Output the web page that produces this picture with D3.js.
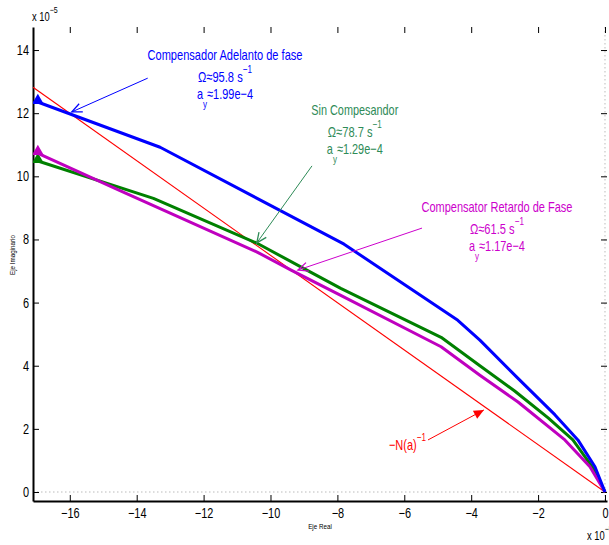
<html>
<head>
<meta charset="utf-8">
<script src="https://d3js.org/d3.v7.min.js"></script>
<style>
  body { margin: 0; background: #fff; }
  text { font-family: "Liberation Sans Narrow", "Liberation Sans", Arial, sans-serif; }
</style>
</head>
<body>
<script>
// datos (x en unidades de 10^-?, y en unidades de 10^-5)
var xTicks = [-16, -14, -12, -10, -8, -6, -4, -2, 0];
var yTicks = [0, 2, 4, 6, 8, 10, 12, 14];

var blueX = [-17, -13.3, -7.8, -4.4, -3.74, -2.6, -1.5, -0.81, -0.3, 0];
var blueY = [12.37, 10.92, 7.85, 5.44, 4.81, 3.6, 2.45, 1.65, 0.8, 0];

var greenX = [-17, -13.5, -10.4, -8.9, -7.9, -4.9, -3.74, -2.7, -1.7, -0.96, -0.35, 0];
var greenY = [10.5, 9.3, 7.88, 7.02, 6.45, 4.9, 4.0, 3.2, 2.35, 1.65, 0.75, 0];

var magentaX = [-17, -14.5, -10.4, -9.37, -7.9, -4.9, -3.74, -2.6, -1.2, -0.45, 0];
var magentaY = [10.75, 9.55, 7.6, 7.02, 6.23, 4.6, 3.7, 2.85, 1.65, 0.8, 0];

var redX = [-17.1, 0];
var redY = [12.82, 0];

var width = 609, height = 545;
var mLeft = 33, mRight = 607, mTop = 27, mBottom = 501;

var svg = d3.select("body").append("svg").attr("width", width).attr("height", height);

var x = d3.scaleLinear().domain([-17.1, 0.06]).range([mLeft, mRight]);
var y = d3.scaleLinear().domain([-0.285, 14.73]).range([mBottom, mTop]);

svg.append("clipPath").attr("id", "clip")
  .append("rect").attr("x", mLeft).attr("y", mTop).attr("width", mRight - mLeft).attr("height", mBottom - mTop);

// lineas punteadas en cero
svg.append("line").attr("x1", mLeft).attr("x2", mRight).attr("y1", y(0)).attr("y2", y(0))
  .attr("stroke", "#bbb").attr("stroke-dasharray", "1.5,2.5");
svg.append("line").attr("x1", x(0)).attr("x2", x(0)).attr("y1", mTop).attr("y2", mBottom)
  .attr("stroke", "#bbb").attr("stroke-dasharray", "1.5,2.5");

// ejes
var fmt = function(d) { return d < 0 ? "\u2212" + Math.abs(d) : d; };

var gx = svg.append("g").attr("transform", "translate(0," + mBottom + ")")
  .call(d3.axisBottom(x).tickValues(xTicks).tickFormat(fmt).tickSizeInner(-6).tickSizeOuter(0).tickPadding(7));
var gxTop = svg.append("g").attr("transform", "translate(0," + mTop + ")")
  .call(d3.axisTop(x).tickValues(xTicks).tickFormat("").tickSizeInner(-6).tickSizeOuter(0));
var gy = svg.append("g").attr("transform", "translate(" + mLeft + ",0)")
  .call(d3.axisLeft(y).tickValues(yTicks).tickFormat(fmt).tickSizeInner(-6).tickSizeOuter(0).tickPadding(4));
var gyRight = svg.append("g").attr("transform", "translate(" + mRight + ",0)")
  .call(d3.axisRight(y).tickValues(yTicks).tickFormat("").tickSizeInner(-6).tickSizeOuter(0));

gxTop.select(".domain").remove();
gyRight.select(".domain").remove();
[gx, gy].forEach(function(g) {
  g.select(".domain").attr("stroke", "#000").attr("stroke-width", 2);
  g.selectAll("text").attr("font-size", 14).attr("fill", "#000").classed("narrow", true);
});
gx.selectAll(".tick line").attr("stroke", "#000");
gy.selectAll(".tick line").attr("stroke", "#000");
gxTop.selectAll(".tick line").attr("stroke", "#000");
gyRight.selectAll(".tick line").attr("stroke", "#000");

// etiquetas de ejes
svg.append("text").attr("class", "narrow").attr("x", (mLeft + mRight) / 2).attr("y", 529).attr("text-anchor", "middle")
  .attr("font-size", 8).text("Eje Real");
svg.append("text").attr("class", "narrow").attr("transform", "translate(15,255) rotate(-90)").attr("text-anchor", "middle")
  .attr("font-size", 8).text("Eje Imaginario");

var ex1 = svg.append("text").attr("class", "narrow").attr("x", 32).attr("y", 21).attr("font-size", 12);
ex1.append("tspan").text("x 10");
ex1.append("tspan").attr("dy", -8).attr("font-size", 9).text("\u22125");
var ex2 = svg.append("text").attr("class", "narrow").attr("x", 587).attr("y", 540).attr("font-size", 12);
ex2.append("tspan").text("x 10");
ex2.append("tspan").attr("dy", -8).attr("font-size", 9).text("\u22125");

// curvas
var plot = svg.append("g").attr("clip-path", "url(#clip)");
var line = d3.line().x(function(d) { return x(d[0]); }).y(function(d) { return y(d[1]); });
var zip = function(a, b) { return a.map(function(v, i) { return [v, b[i]]; }); };

plot.append("path").datum(zip(redX, redY)).attr("d", line)
  .attr("fill", "none").attr("stroke", "#ff0000").attr("stroke-width", 1.1);

var series = [
  { xs: greenX, ys: greenY, color: "#008000" },
  { xs: magentaX, ys: magentaY, color: "#bf00bf" },
  { xs: blueX, ys: blueY, color: "#0000ff" }
];
series.forEach(function(s) {
  var pts = zip(s.xs, s.ys);
  plot.append("path").datum(pts).attr("d", line)
    .attr("fill", "none").attr("stroke", s.color).attr("stroke-width", 3).attr("stroke-linejoin", "round");
  plot.append("path").attr("d", d3.symbol().type(d3.symbolTriangle).size(60)())
    .attr("transform", "translate(" + (x(pts[0][0]) + 1.5) + "," + (y(pts[0][1]) - 1) + ")")
    .attr("fill", s.color);
});

// anotaciones
function arrow(x0, y0, x1, y1, color, filled) {
  var px0 = x(x0), py0 = y(y0), px1 = x(x1), py1 = y(y1);
  var a = Math.atan2(py1 - py0, px1 - px0);
  var L = 11, w = 0.42;
  var h1 = [px1 - L * Math.cos(a - w), py1 - L * Math.sin(a - w)];
  var h2 = [px1 - L * Math.cos(a + w), py1 - L * Math.sin(a + w)];
  svg.append("line").attr("x1", px0).attr("y1", py0).attr("x2", px1).attr("y2", py1)
    .attr("stroke", color).attr("stroke-width", 1);
  if (filled) {
    svg.append("path").attr("d", "M" + h1 + "L" + px1 + "," + py1 + "L" + h2 + "Z").attr("fill", color);
  } else {
    svg.append("path").attr("d", "M" + h1 + "L" + px1 + "," + py1 + "L" + h2)
      .attr("fill", "none").attr("stroke", color).attr("stroke-width", 1.3);
  }
}

function fit(t, len) {
  t.attr("textLength", len).attr("lengthAdjust", "spacingAndGlyphs");
}

function label(cx, by, title, titleLen, omega, ay, color) {
  var px = x(cx), py = y(by);
  var t1 = svg.append("text").attr("x", px).attr("y", py).attr("text-anchor", "middle")
    .attr("font-size", 15).attr("fill", color).text(title);
  fit(t1, titleLen);
  var t2 = svg.append("text").attr("x", px).attr("y", py + 22).attr("text-anchor", "middle")
    .attr("font-size", 15).attr("fill", color);
  t2.append("tspan").text("\u03a9\u2248" + omega + " s");
  t2.append("tspan").attr("dy", -9).attr("font-size", 11).text("\u22121");
  fit(t2, 54);
  var t3 = svg.append("text").attr("x", px).attr("y", py + 39).attr("text-anchor", "middle")
    .attr("font-size", 15).attr("fill", color);
  t3.append("tspan").text("a");
  t3.append("tspan").attr("dy", 9).attr("font-size", 11).text("y");
  t3.append("tspan").attr("dy", -9).text("\u2248" + ay);
  fit(t3, 56);
}

label(-11.36, 13.68, "Compensador Adelanto de fase", 155, "95.8", "1.99e\u22124", "#0000ff");
arrow(-13.67, 13.11, -15.94, 12.04, "#0000ff", false);

label(-7.48, 11.94, "Sin Compesandor", 87, "78.7", "1.29e\u22124", "#2e8b57");
arrow(-8.76, 10.33, -10.41, 7.89, "#2e8b57", false);

label(-3.23, 8.87, "Compensator Retardo de Fase", 151, "61.5", "1.17e\u22124", "#cc00cc");
arrow(-5.47, 8.36, -9.18, 7.03, "#cc00cc", false);

var tn = svg.append("text").attr("x", x(-6.46)).attr("y", y(1.33)).attr("font-size", 15).attr("fill", "#ff0000");
tn.append("tspan").text("\u2212N(a)");
tn.append("tspan").attr("dy", -9).attr("font-size", 11).text("\u22121");
fit(tn, 37);
arrow(-5.29, 1.65, -3.62, 2.60, "#ff0000", true);

// letra estrecha (sin Helvetica Narrow disponible)
svg.selectAll("text.narrow").each(function() {
  var L = this.getComputedTextLength();
  d3.select(this).attr("textLength", L * 0.78).attr("lengthAdjust", "spacingAndGlyphs");
});
</script>
</body>
</html>
